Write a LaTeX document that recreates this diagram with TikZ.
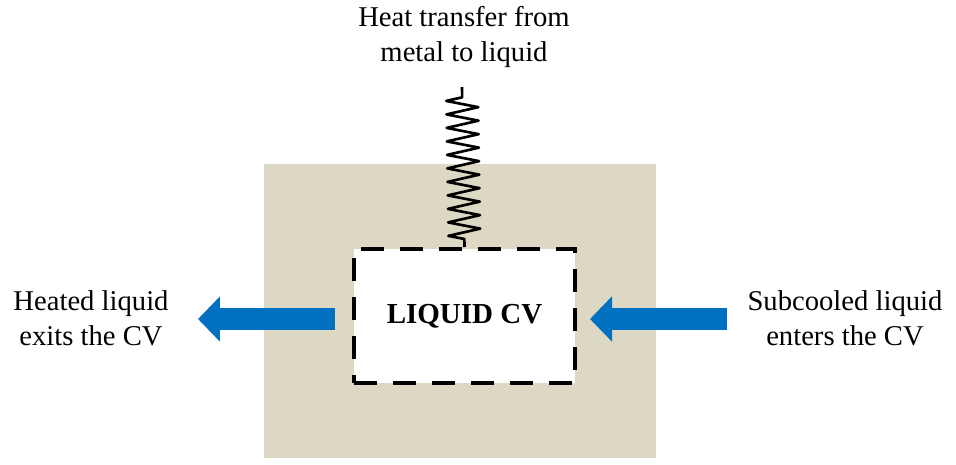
\documentclass[tikz,border=0pt]{standalone}
\usepackage{fontspec}
\setmainfont{Liberation Serif}
\usepackage{xcolor}
\usetikzlibrary{arrows.meta, positioning, calc, decorations.pathmorphing}
\definecolor{metal}{HTML}{DDD8C3}
\definecolor{flow}{HTML}{0070C0}

\begin{document}
\begin{tikzpicture}[
    x=0.02cm, y=-0.02cm,
    label/.style={font=\fontsize{16.3}{20}\selectfont, align=center, inner sep=0pt},
    cvbox/.style={draw, fill=white, line width=2.3pt, dash pattern=on 0.46cm off 0.32cm, minimum width=4.42cm, minimum height=2.68cm, font=\fontsize{16.5}{20}\selectfont\bfseries},
    flowarrow/.style={draw=flow, line width=0.44cm, -{Triangle[length=0.44cm, width=0.88cm]}},
]
    \useasboundingbox (0,0) rectangle (956,464);

    % Metal around the control volume
    \fill[metal] (264,164) rectangle (656,458);

    % Control volume
    \node[cvbox] (cv) at (464.5,316) {LIQUID CV};

    % Labels
    \node[label] (heat) at (464,37) {Heat transfer from\\metal to liquid};
    \node[label] (outtext) at (91,318) {Heated liquid\\exits the CV};
    \node[label] (intext) at (845,318) {Subcooled liquid\\enters the CV};

    \coordinate (springtop) at (462,87);
    \coordinate (outtip) at (198,319);
    \coordinate (intail) at (727,319);

    % Heat transfer
    \draw[line width=1.5pt, line join=round, decorate, decoration={zigzag, amplitude=0.32cm, segment length=0.27cm, pre length=0.16cm, post length=0.16cm}]
        (cv.north) -- (springtop);

    % Flow in and out
    \draw[flowarrow, shorten <=0.34cm] (cv.west |- outtip) -- (outtip);
    \draw[flowarrow, shorten >=0.26cm] (intail) -- (cv.east |- intail);
\end{tikzpicture}
\end{document}
